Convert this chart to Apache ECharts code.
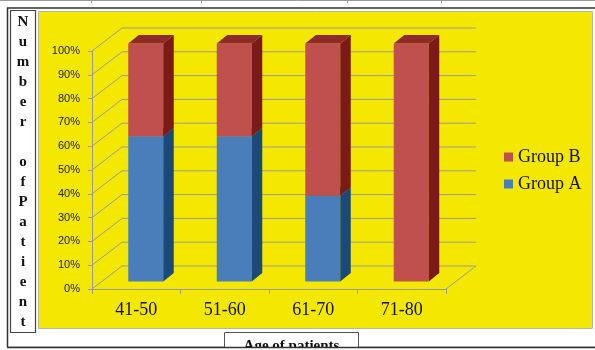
<!DOCTYPE html>
<html>
<head>
<meta charset="utf-8">
<script src="https://cdn.jsdelivr.net/npm/echarts@6/dist/echarts.min.js"></script>
<style>
  html, body { margin: 0; padding: 0; background: #fff; }
  #chart { width: 595px; height: 350px; }
</style>
</head>
<body>
<div id="chart"></div>
<script>
// Age bands and the share of each group (percent of patients in the band)
const categories = ['41-50', '51-60', '61-70', '71-80'];
const groupA = [61, 61, 36, 0];
const groupB = [39, 39, 64, 100];
const percentTicks = [0, 10, 20, 30, 40, 50, 60, 70, 80, 90, 100];
const seriesNames = ['Group A', 'Group B'];
const yTitleLetters = ['N', 'u', 'm', 'b', 'e', 'r', '', 'o', 'f', 'P', 'a', 't', 'i', 'e', 'n', 't'];
const xTitle = 'Age of patients';

// Pseudo-3D geometry: back wall offset, bar placement depth and bar thickness
const WALL_DX = 30, WALL_DY = -23;
const BAR_DX = 9.5, BAR_DY = -7.6;
const SIDE_DX = 10.5, SIDE_DY = -8.5;
const BAR_RATIO = 35 / 88.5;

const faces = [
  { front: '#4a7ebb', side: '#1b4a78', top: '#2c5f96' },  // Group A
  { front: '#c0504d', side: '#7a1a19', top: '#8e2a29' }   // Group B
];
const GRID_GRAY = '#9a9a9a';

function stackRows(base, vals) {
  return vals.map((v, i) => [i, base[i], base[i] + v]);
}
const zeros = categories.map(() => 0);
const rowsA = stackRows(zeros, groupA);
const rowsB = stackRows(groupA, groupB);

function renderBar(params, api) {
  const cat = api.value(0), lo = api.value(1), hi = api.value(2);
  if (!(hi > lo)) return null;
  const f = faces[params.seriesIndex - 1];
  const pLo = api.coord([cat, lo]);
  const pHi = api.coord([cat, hi]);
  const w = api.size([1, 0])[0] * BAR_RATIO;
  const x0 = pLo[0] - w / 2 + BAR_DX, x1 = x0 + w;
  const yB = pLo[1] + BAR_DY, yT = pHi[1] + BAR_DY;
  return {
    type: 'group',
    children: [
      { type: 'rect', shape: { x: x0, y: yT, width: w, height: yB - yT },
        style: { fill: f.front } },
      { type: 'polygon', shape: { points: [[x1, yB], [x1 + SIDE_DX, yB + SIDE_DY], [x1 + SIDE_DX, yT + SIDE_DY], [x1, yT]] },
        style: { fill: f.side } },
      { type: 'polygon', shape: { points: [[x0, yT], [x0 + SIDE_DX, yT + SIDE_DY], [x1 + SIDE_DX, yT + SIDE_DY], [x1, yT]] },
        style: { fill: f.top } }
    ]
  };
}

// Back wall gridlines, the slanted side-wall lines and the floor's right edge
function renderWall(params, api) {
  const cs = params.coordSys;
  const v = api.value(0);
  const y = api.coord([0, v])[1];
  const left = cs.x, right = cs.x + cs.width;
  const style = { stroke: GRID_GRAY, lineWidth: 1 };
  const children = [
    { type: 'line', shape: { x1: left, y1: y, x2: left + WALL_DX, y2: y + WALL_DY }, style },
    { type: 'line', shape: { x1: left + WALL_DX, y1: y + WALL_DY, x2: right + WALL_DX, y2: y + WALL_DY }, style }
  ];
  if (v === 0) {
    children.push({ type: 'line', shape: { x1: right, y1: y, x2: right + WALL_DX, y2: y + WALL_DY }, style });
  }
  return { type: 'group', children };
}

const chart = echarts.init(document.getElementById('chart'), null, { renderer: 'canvas' });

chart.setOption({
  animation: false,
  backgroundColor: '#ffffff',
  grid: { left: 92, top: 51, width: 354, height: 238 },
  xAxis: {
    type: 'category',
    data: categories,
    boundaryGap: true,
    axisLine: { show: true, lineStyle: { color: GRID_GRAY, width: 1 } },
    axisTick: { show: true, length: 5, lineStyle: { color: GRID_GRAY } },
    axisLabel: { fontFamily: 'Liberation Serif', fontSize: 18, color: '#111', margin: 12 },
    splitLine: { show: false }
  },
  yAxis: {
    type: 'value',
    min: 0, max: 100, interval: 10,
    axisLine: { show: true, lineStyle: { color: GRID_GRAY, width: 1 } },
    axisTick: { show: true, length: 4, lineStyle: { color: GRID_GRAY } },
    axisLabel: { formatter: '{value}%', fontFamily: 'Liberation Sans', fontSize: 11, color: '#222', margin: 12 },
    splitLine: { show: false }
  },
  legend: {
    data: ['Group B', 'Group A'],
    orient: 'vertical',
    left: 504, top: 148, padding: 0,
    icon: 'rect', itemWidth: 9, itemHeight: 9, itemGap: 9,
    textStyle: { fontFamily: 'Liberation Serif', fontSize: 18, color: '#111' }
  },
  series: [
    {
      type: 'custom', name: 'wall', silent: true, z: 1,
      renderItem: renderWall,
      data: percentTicks.map(v => [v]),
      encode: { y: 0 }
    },
    {
      type: 'custom', name: seriesNames[0], z: 3,
      renderItem: renderBar,
      itemStyle: { color: faces[0].front },
      data: rowsA, encode: { x: 0, y: [1, 2] }
    },
    {
      type: 'custom', name: seriesNames[1], z: 4,
      renderItem: renderBar,
      itemStyle: { color: faces[1].front },
      data: rowsB, encode: { x: 0, y: [1, 2] }
    }
  ],
  graphic: [
    // page rule at the top with table cell dividers
    { type: 'line', z: -20, shape: { x1: 0, y1: 0.5, x2: 595, y2: 0.5 }, style: { stroke: '#9a9a9a', lineWidth: 1 } },
    ...[91, 201, 347, 441].map(x => ({ type: 'line', z: -20, shape: { x1: x + 0.5, y1: 0, x2: x + 0.5, y2: 3 }, style: { stroke: '#9a9a9a', lineWidth: 1 } })),
    // outer frame
    { type: 'rect', z: -20, shape: { x: 7.5, y: 8, width: 600, height: 339.5 },
      style: { fill: '#ffffff', stroke: '#333', lineWidth: 1.5 } },
    // yellow chart area
    { type: 'rect', z: -10, shape: { x: 38.5, y: 11.5, width: 554, height: 317 },
      style: { fill: '#f5e800', stroke: '#b8b8a0', lineWidth: 1 } },
    // vertical axis title box
    { type: 'rect', z: -10, shape: { x: 10.5, y: 10.5, width: 25, height: 322 },
      style: { fill: '#ffffff', stroke: '#444', lineWidth: 1.2 } },
    { type: 'text', z: 10, x: 23, y: 12,
      style: { text: yTitleLetters.join('\n'), fontFamily: 'Liberation Serif', fontWeight: 'bold',
        fontSize: 15, lineHeight: 20, fill: '#111', align: 'center', verticalAlign: 'top' } },
    // horizontal axis title box (cut by the frame)
    { type: 'rect', z: -10, shape: { x: 224.5, y: 332.5, width: 134, height: 20 },
      style: { fill: '#ffffff', stroke: '#555', lineWidth: 1 } },
    { type: 'text', z: 10, x: 291.5, y: 339,
      style: { text: xTitle, fontFamily: 'Liberation Serif', fontWeight: 'bold',
        fontSize: 15, fill: '#111', align: 'center', verticalAlign: 'top' } },
    { type: 'rect', z: 11, shape: { x: 0, y: 347, width: 595, height: 3 }, style: { fill: '#ffffff' } },
    { type: 'line', z: 12, shape: { x1: 7, y1: 347.5, x2: 595, y2: 347.5 }, style: { stroke: '#333', lineWidth: 1.5 } }
  ]
});
</script>
</body>
</html>
